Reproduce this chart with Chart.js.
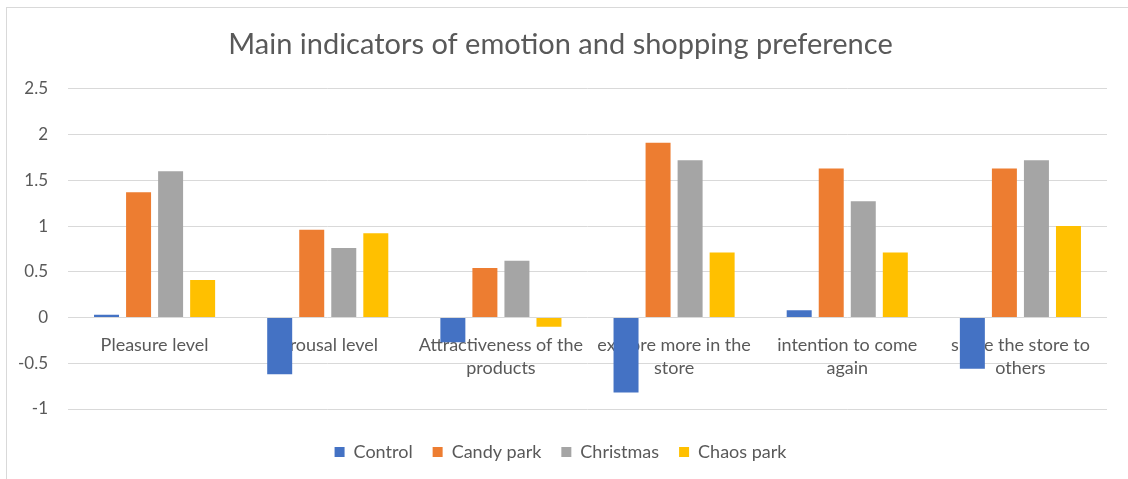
<!DOCTYPE html>
<html>
<head>
<meta charset="utf-8">
<script src="https://cdn.jsdelivr.net/npm/chart.js@4"></script>
<style>
    html, body { margin: 0; padding: 0; background: #fff; }
    #wrap { position: relative; width: 1128px; height: 479px; }
    #frame { position: absolute; left: 6px; top: 7px; right: -2px; bottom: -2px; border: 1px solid #d9d9d9; pointer-events: none; }
</style>
</head>
<body>
<div id="wrap">
    <canvas id="emotionChart" width="1128" height="479"></canvas>
    <div id="frame"></div>
</div>
<script>
// Data
const categories = [
    'Pleasure level',
    'Arousal level',
    ['Attractiveness of the', 'products'],
    ['explore more in the', 'store'],
    ['intention to come', 'again'],
    ['share the store to', 'others']
];
const seriesNames = ['Control', 'Candy park', 'Christmas', 'Chaos park'];
const control = [0.03, -0.62, -0.27, -0.82, 0.08, -0.56];
const candyPark = [1.37, 0.96, 0.54, 1.91, 1.63, 1.63];
const christmas = [1.6, 0.76, 0.62, 1.72, 1.27, 1.72];
const chaosPark = [0.41, 0.92, -0.1, 0.71, 0.71, 1.0];
const yTicks = [-1, -0.5, 0, 0.5, 1, 1.5, 2, 2.5];

const colors = ['#4472C4', '#ED7D31', '#A5A5A5', '#FFC000'];
const textColor = '#595959';
const fontFamily = 'Lato, "Open Sans", sans-serif';

document.addEventListener('DOMContentLoaded', function() {
    const ctx = document.getElementById('emotionChart');
    const values = [control, candyPark, christmas, chaosPark];

    new Chart(ctx, {
        type: 'bar',
        data: {
            labels: categories,
            datasets: seriesNames.map((name, i) => ({
                label: name,
                data: values[i],
                backgroundColor: colors[i],
                borderWidth: 0,
                categoryPercentage: 0.74,
                barPercentage: 0.78
            }))
        },
        options: {
            responsive: false,
            animation: false,
            layout: { padding: { left: 14, right: 21, top: 0, bottom: 8 } },
            plugins: {
                title: {
                    display: true,
                    text: 'Main indicators of emotion and shopping preference',
                    color: textColor,
                    font: { family: fontFamily, size: 29, weight: 'normal', lineHeight: 1.2 },
                    padding: { top: 27, bottom: 27 }
                },
                legend: {
                    position: 'bottom',
                    // empty title only used as a spacer above the legend row
                    title: { display: true, text: '', font: { size: 10, lineHeight: 1 }, padding: { top: 4, bottom: 0 } },
                    labels: {
                        color: textColor,
                        font: { family: fontFamily, size: 18 },
                        boxWidth: 10,
                        boxHeight: 10,
                        padding: 20
                    }
                },
                tooltip: { enabled: false }
            },
            scales: {
                x: {
                    position: { y: 0 },
                    grid: { display: false },
                    border: { display: false },
                    ticks: {
                        color: textColor,
                        font: { family: fontFamily, size: 18, lineHeight: 1.28 },
                        padding: 8,
                        maxRotation: 0,
                        autoSkip: false
                    }
                },
                y: {
                    min: yTicks[0],
                    max: yTicks[yTicks.length - 1],
                    afterBuildTicks: axis => { axis.ticks = yTicks.map(v => ({ value: v })); },
                    afterFit: axis => { axis.width = 54; },
                    grid: { color: '#d9d9d9', drawTicks: false },
                    border: { display: false },
                    ticks: {
                        color: textColor,
                        font: { family: fontFamily, size: 17 },
                        padding: 20,
                        callback: value => String(value)
                    }
                }
            }
        }
    });
});
</script>
</body>
</html>
